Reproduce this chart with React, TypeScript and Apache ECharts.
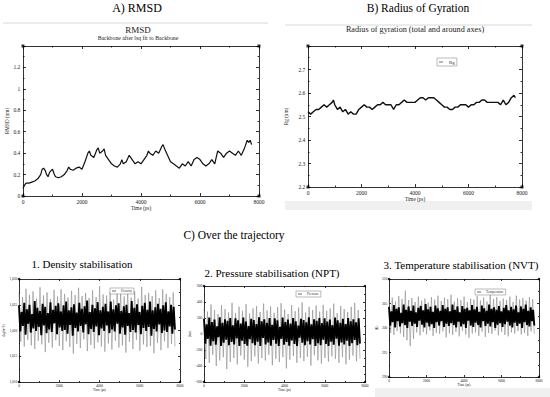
import React, { useEffect, useRef } from "react";
import * as echarts from "echarts";

const FONT = "'Liberation Serif', 'Times New Roman', serif";

// ---- A) RMSD ----
const rmsdTime = [0,50,100,200,300,400,500,600,650,700,750,800,850,900,1000,1050,1100,1200,1300,1400,1500,1550,1600,1700,1800,1900,2000,2100,2200,2250,2300,2400,2500,2550,2600,2700,2750,2800,2900,3000,3100,3200,3300,3350,3400,3500,3600,3650,3700,3800,3900,4000,4100,4200,4250,4300,4400,4500,4600,4700,4750,4800,4900,5000,5100,5200,5300,5400,5500,5600,5700,5800,5900,6000,6100,6200,6300,6400,6500,6550,6600,6700,6800,6900,7000,7100,7200,7300,7400,7500,7550,7600,7650,7700,7750];
const rmsdValue = [0.07,0.10,0.12,0.12,0.13,0.14,0.16,0.20,0.25,0.26,0.24,0.20,0.18,0.22,0.25,0.21,0.18,0.17,0.18,0.20,0.24,0.27,0.25,0.24,0.26,0.27,0.25,0.32,0.40,0.42,0.38,0.36,0.43,0.45,0.40,0.42,0.44,0.38,0.34,0.30,0.28,0.27,0.30,0.34,0.30,0.32,0.38,0.36,0.34,0.30,0.32,0.30,0.34,0.38,0.42,0.40,0.38,0.42,0.40,0.46,0.48,0.44,0.38,0.32,0.30,0.28,0.26,0.30,0.28,0.32,0.28,0.34,0.36,0.34,0.30,0.28,0.30,0.34,0.30,0.36,0.42,0.40,0.36,0.40,0.42,0.40,0.38,0.42,0.38,0.44,0.48,0.52,0.50,0.52,0.48];

// ---- B) Radius of gyration ----
const rgTime = [0,100,200,300,400,500,600,700,800,900,950,1000,1100,1200,1300,1400,1500,1600,1700,1800,1900,2000,2100,2200,2300,2400,2500,2600,2700,2800,2900,3000,3100,3200,3300,3400,3500,3600,3700,3800,3900,4000,4100,4200,4300,4400,4500,4600,4700,4800,4900,5000,5100,5200,5300,5400,5500,5600,5700,5800,5900,6000,6100,6200,6300,6400,6500,6600,6700,6800,6900,7000,7100,7200,7300,7400,7500,7600,7700,7750];
const rgValue = [2.52,2.51,2.52,2.53,2.53,2.54,2.55,2.54,2.55,2.56,2.57,2.55,2.53,2.54,2.52,2.53,2.51,2.52,2.51,2.51,2.53,2.54,2.55,2.54,2.54,2.53,2.54,2.55,2.55,2.56,2.55,2.55,2.55,2.53,2.55,2.55,2.56,2.57,2.56,2.56,2.56,2.56,2.57,2.58,2.58,2.57,2.58,2.58,2.58,2.57,2.56,2.55,2.54,2.54,2.53,2.53,2.54,2.54,2.55,2.55,2.55,2.54,2.55,2.55,2.56,2.56,2.57,2.57,2.56,2.56,2.56,2.56,2.56,2.55,2.57,2.55,2.56,2.58,2.59,2.58];

// ---- C) Over the trajectory (dense core band + outer spikes, read off the traces) ----
const trajEnd = 7750;
const densityCore = [1024.9,1019.8,1023.6,1020.9,1025.4,1019.2,1024.1,1021.3,1025.0,1019.6,1023.2,1020.4,1025.7,1019.9,1024.4,1020.7,1023.8,1019.1,1025.2,1021.0,1024.6,1019.5,1023.4,1020.2,1025.5,1019.7,1024.0,1021.4,1024.8,1019.3,1025.3,1020.6,1023.7,1019.9,1024.9,1020.1,1025.6,1019.4,1023.9,1021.1,1024.5,1019.0,1025.1,1020.5,1023.5,1019.8,1025.4,1020.9,1024.2,1019.6,1024.7,1021.2,1025.8,1019.3,1023.6,1020.3,1025.0,1019.7,1024.3,1020.8,1025.5,1019.1,1023.9,1020.4,1024.6,1019.9,1025.2,1021.0,1023.7,1019.5,1025.6,1020.2,1024.1,1019.8,1024.9,1021.3,1025.3,1019.4,1023.8,1020.6,1024.7,1019.2,1025.0,1020.9,1023.4,1019.7,1025.7,1020.1,1024.4,1019.6,1025.1,1021.1,1023.6,1019.3,1024.8,1020.5,1025.4,1019.9,1024.0,1020.7,1025.6,1019.0,1023.9,1020.3,1024.5,1019.8,1025.2,1021.2,1024.2,1019.5,1024.9,1020.0,1025.5,1019.7,1023.7,1020.8,1025.0,1019.4,1024.6,1020.2];
const densitySpike = [1027.2,1017.8,1026.5,1016.9,1028.1,1018.2,1026.9,1017.1,1027.6,1016.4,1026.2,1018.0,1028.4,1017.3,1026.8,1015.8,1027.4,1017.6,1026.1,1016.7,1027.9,1018.1,1026.6,1017.0,1028.0,1016.2,1027.1,1017.9,1026.4,1016.8,1027.7,1015.5,1026.9,1017.4,1028.3,1016.6,1026.7,1018.3,1027.3,1016.0,1026.3,1017.2,1027.8,1016.5,1026.5,1017.7,1028.6,1016.9,1027.0,1015.9,1026.8,1017.5,1027.5,1016.3,1026.0,1018.0,1028.2,1016.7,1027.2,1017.1,1026.6,1015.7,1027.9,1017.8,1026.4,1016.4,1027.6,1018.2,1026.2,1016.1,1028.5,1017.3,1026.9,1016.8,1027.3,1017.0,1026.7,1015.6,1027.8,1017.6,1026.3,1016.2,1028.0,1017.9,1027.1,1016.6,1026.5,1017.4,1027.4,1016.9];
const pressureCore = [190,-120,120,-60,205,-145,150,-90,180,-135,95,-40,210,-150,140,-110,185,-70,165,-140,200,-100,110,-130,195,-55,170,-150,130,-85,205,-125,155,-145,100,-65,190,-115,175,-140,125,-95,210,-150,160,-50,185,-130,140,-105,200,-145,115,-75,195,-120,170,-150,90,-60,205,-135,150,-100,180,-145,130,-80,200,-125,160,-150,105,-45,190,-110,175,-140,145,-90,210,-130,120,-65,185,-150,165,-115,200,-140,135,-70,195,-125,155,-150,180,-95,110,-135,205,-60,170,-145,140,-105,190,-130,125,-85,200,-150,160,-115,185,-75,145,-140,195,-120];
const pressureSpike = [330,-310,280,-360,370,-260,300,-400,250,-330,360,-290,310,-440,270,-350,390,-300,260,-380,340,-270,290,-320,375,-410,255,-340,320,-280,350,-370,275,-300,380,-330,295,-260,345,-390,265,-310,335,-350,385,-290,305,-430,250,-320,360,-275,285,-360,330,-300,395,-340,270,-285,340,-395,300,-265,355,-330,280,-370,365,-300,290,-345,320,-280,380,-310,260,-360,350,-290,310,-380,275,-320,340,-270,390,-340,300,-310];
const temperatureCore = [304.3,300.5,303.4,301.2,304.7,300.1,303.9,301.4,304.2,300.3,303.1,301.0,304.8,300.6,303.7,300.0,304.4,301.3,303.5,300.4,304.6,300.9,303.2,300.2,304.1,301.5,304.5,300.7,303.6,300.1,304.9,301.1,303.8,300.3,304.3,300.8,303.3,300.0,304.6,301.2,304.0,300.5,303.5,301.4,304.7,300.2,303.9,300.9,304.2,300.4,303.4,301.0,304.8,300.6,303.7,300.1,304.4,301.3,303.2,300.3,304.5,300.8,303.9,300.0,304.1,301.5,303.6,300.5,304.7,300.2,303.8,301.1,304.3,300.6,303.3,300.1,304.6,301.4,304.0,300.4,303.5,300.9,304.8,300.3,303.9,301.2,304.2,300.0,303.7,300.7,304.5,301.0,303.4,300.2,304.1,300.8,304.7,301.3,303.6,300.5,304.3,300.1,303.8,301.1,304.6,300.4,303.2,300.9,304.4,300.0,303.9,301.2,304.8,300.6,303.5,300.3,304.2,301.4,303.7,300.5];
const temperatureSpike = [305.8,299.0,306.2,298.6,305.4,299.4,306.5,298.9,305.9,298.2,307.6,297.5,305.7,296.3,306.1,297.8,305.3,299.1,306.4,298.5,305.6,299.2,306.0,298.7,305.2,299.5,306.3,298.4,305.8,299.0,306.6,298.8,305.5,299.3,306.2,298.1,305.9,298.9,306.8,298.6,305.4,299.2,306.1,298.3,305.7,299.4,306.4,298.7,305.3,298.0,306.0,298.9,305.8,299.1,306.5,298.4,305.6,299.3,306.2,298.2,305.4,299.0,306.7,298.8,305.9,299.5,306.3,298.5,305.5,299.2,306.0,298.6,305.7,298.3,306.4,299.1,305.3,298.9,306.6,299.4,305.8,298.7,306.1,299.0,305.6,298.4,306.3,299.3,305.9,298.8];

type Panel = {
  grid: { left: number; top: number; width: number; height: number };
  yMin: number; yMax: number; yInt: number;
  labelSize: number; yName: string; yGap: number; xGap: number;
  hideMax: boolean; tickLen: number;
};

const panels: Panel[] = [
  { grid: { left: 23, top: 46, width: 236, height: 150 }, yMin: 0, yMax: 1.4, yInt: 0.2, labelSize: 5.5, yName: "RMSD (nm)", yGap: 14, xGap: 9, hideMax: true, tickLen: 3 },
  { grid: { left: 308, top: 46, width: 214, height: 141 }, yMin: 2.2, yMax: 2.8, yInt: 0.1, labelSize: 5.5, yName: "Rg (nm)", yGap: 20, xGap: 9, hideMax: true, tickLen: 3 },
  { grid: { left: 19, top: 279, width: 161, height: 103 }, yMin: 1010, yMax: 1030, yInt: 5, labelSize: 3.5, yName: "(kg/m^3)", yGap: 14, xGap: 6, hideMax: false, tickLen: 2 },
  { grid: { left: 204, top: 286, width: 161, height: 96 }, yMin: -600, yMax: 600, yInt: 200, labelSize: 3.5, yName: "(bar)", yGap: 13, xGap: 5, hideMax: false, tickLen: 2 },
  { grid: { left: 389, top: 279, width: 150, height: 98 }, yMin: 290, yMax: 310, yInt: 5, labelSize: 3.5, yName: "(K)", yGap: 10, xGap: 6, hideMax: false, tickLen: 2 },
];

const pairs = (t: number[], v: number[]) => v.map((y, i) => [t[i], y]);
const sampled = (v: number[]) => v.map((y, i) => [(i * trajEnd) / (v.length - 1), y]);

export default function App() {
  const ref = useRef<HTMLDivElement>(null);
  useEffect(() => {
    if (!ref.current) return;
    const chart = echarts.init(ref.current, undefined, { renderer: "svg" });
    const lineStyle = { color: "#000", width: 0.8 };
    const xAxes: any[] = [];
    const yAxes: any[] = [];
    panels.forEach((p, i) => {
      const common = {
        gridIndex: i, type: "value", min: 0, max: 8000, interval: 2000,
        axisLine: { show: true, onZero: false, lineStyle },
        axisTick: { show: true, inside: true, length: p.tickLen, lineStyle },
        minorTick: { show: true, splitNumber: 2, length: p.tickLen / 2, lineStyle },
        splitLine: { show: false },
      };
      xAxes.push({
        ...common, position: "bottom",
        name: "Time (ps)", nameLocation: "middle", nameGap: p.xGap,
        nameTextStyle: { fontFamily: FONT, fontSize: p.labelSize * 0.95, color: "#222" },
        axisLabel: { fontFamily: FONT, fontSize: p.labelSize, color: "#222", margin: p.labelSize * 0.5, formatter: (v: number) => String(v) },
      });
      xAxes.push({ ...common, position: "top", axisLabel: { show: false } });
      const ycommon = {
        gridIndex: i, type: "value", min: p.yMin, max: p.yMax, interval: p.yInt,
        axisLine: { show: true, onZero: false, lineStyle },
        axisTick: { show: true, inside: true, length: p.tickLen, lineStyle },
        minorTick: { show: true, splitNumber: 2, length: p.tickLen / 2, lineStyle },
        splitLine: { show: false },
      };
      yAxes.push({
        ...ycommon, position: "left",
        name: p.yName, nameLocation: "middle", nameGap: p.yGap,
        nameTextStyle: { fontFamily: FONT, fontSize: p.labelSize * 0.95, color: "#222" },
        axisLabel: { fontFamily: FONT, fontSize: p.labelSize, color: "#222", margin: p.labelSize * 0.5, showMaxLabel: !p.hideMax },
      });
      yAxes.push({ ...ycommon, position: "right", axisLabel: { show: false } });
    });

    const line = (name: string, i: number, data: number[][], color: string, width: number) => ({
      name, type: "line", xAxisIndex: 2 * i, yAxisIndex: 2 * i, data,
      showSymbol: false, symbol: "none", lineStyle: { color, width }, itemStyle: { color },
      silent: true,
    });
    const corners = (i: number) => {
      const p = panels[i];
      return {
        type: "scatter", xAxisIndex: 2 * i, yAxisIndex: 2 * i, symbol: "rect",
        symbolSize: i < 2 ? 3 : 2.2, itemStyle: { color: "#000" }, clip: false, silent: true, z: 5,
        data: [[0, p.yMin], [8000, p.yMin], [0, p.yMax], [8000, p.yMax]],
      };
    };

    const series: any[] = [
      line("RMSD", 0, pairs(rmsdTime, rmsdValue), "#111", 1.2),
      line("Rg", 1, pairs(rgTime, rgValue), "#111", 1.4),
      line("Density spikes", 2, sampled(densitySpike), "#8c8c8c", 0.6),
      line("Density", 2, sampled(densityCore), "#000", 1.9),
      line("Pressure spikes", 3, sampled(pressureSpike), "#8c8c8c", 0.6),
      line("Pressure", 3, sampled(pressureCore), "#000", 1.9),
      line("Temperature spikes", 4, sampled(temperatureSpike), "#8c8c8c", 0.6),
      line("Temperature", 4, sampled(temperatureCore), "#000", 1.9),
      corners(0), corners(1), corners(2), corners(3), corners(4),
    ];

    const legendBase = {
      orient: "horizontal", icon: "rect", itemWidth: 4, itemHeight: 0.6, itemGap: 2,
      backgroundColor: "#fff", borderColor: "#777", borderWidth: 0.5, selectedMode: false, z: 10,
    };
    const legends = [
      { ...legendBase, data: ["Rg"], left: 437, top: 58, padding: [1.5, 2], textStyle: { fontFamily: FONT, fontSize: 5, color: "#333", padding: [0, 0, 0, 1] } },
      { ...legendBase, data: ["Density"], left: 110, top: 288, padding: [1, 2], textStyle: { fontFamily: FONT, fontSize: 3.5, color: "#333" } },
      { ...legendBase, data: ["Pressure"], left: 296, top: 291, padding: [1, 2], textStyle: { fontFamily: FONT, fontSize: 3.5, color: "#333" } },
      { ...legendBase, data: ["Temperature"], left: 475, top: 289, padding: [1, 2], textStyle: { fontFamily: FONT, fontSize: 3.5, color: "#333" } },
    ];

    const txt = (text: string, x: number, y: number, size: number, color = "#000") => ({
      type: "text", x, y, silent: true,
      style: { text, fontFamily: FONT, fontSize: size, fill: color, textAlign: "center", textVerticalAlign: "middle" },
    });

    const graphic: any[] = [
      { type: "line", shape: { x1: 3, y1: 23, x2: 268, y2: 23 }, style: { stroke: "#d8d8d8", lineWidth: 1 }, silent: true },
      { type: "line", shape: { x1: 285, y1: 25, x2: 532, y2: 25 }, style: { stroke: "#d8d8d8", lineWidth: 1 }, silent: true },
      { type: "rect", shape: { x: 285, y: 201, width: 247, height: 9 }, style: { fill: "#f0f0f0" }, silent: true },
      { type: "rect", shape: { x: 375, y: 388, width: 175, height: 9 }, style: { fill: "#f0f0f0" }, silent: true },
      txt("A) RMSD", 137, 8, 12),
      txt("RMSD", 138, 30, 9, "#222"),
      txt("Backbone after lsq fit to Backbone", 138, 38, 5.8, "#222"),
      txt("B) Radius of Gyration", 418, 8, 11.5),
      txt("Radius of gyration (total and around axes)", 415, 29, 8.2, "#222"),
      txt("C) Over the trajectory", 234, 235, 11.5),
      txt("1. Density stabilisation", 82, 264, 11),
      txt("2. Pressure stabilisation (NPT)", 272, 273, 11),
      txt("3. Temperature stabilisation (NVT)", 461, 265, 11),
    ];

    chart.setOption({
      animation: false,
      backgroundColor: "#fff",
      grid: panels.map((p) => ({ ...p.grid, containLabel: false })),
      xAxis: xAxes,
      yAxis: yAxes,
      legend: legends,
      series,
      graphic,
    });
    return () => chart.dispose();
  }, []);
  return <div ref={ref} style={{ position: "fixed", left: 0, top: 0, width: 550, height: 397, background: "#fff" }} />;
}
